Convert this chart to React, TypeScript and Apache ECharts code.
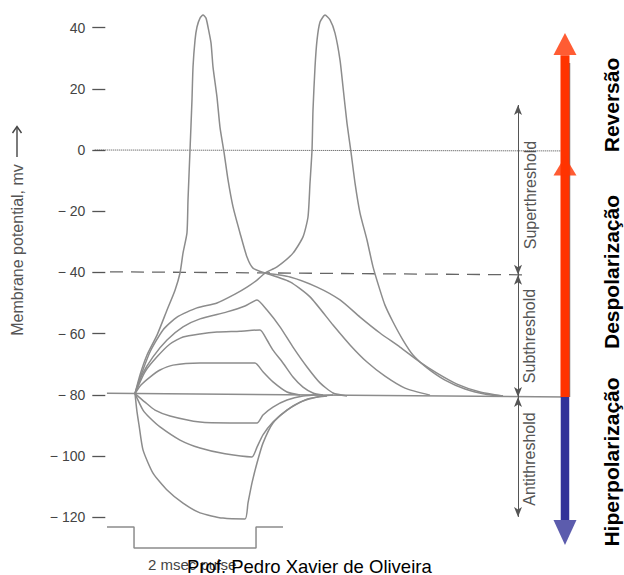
import React, { useEffect, useRef } from 'react';
import * as echarts from 'echarts';

// ---- data (time in ms, potential in mV) ----
const yTicks = [40, 20, 0, -20, -40, -60, -80, -100, -120];

const baseline = [[-0.46, -79.5], [7.08, -80.7]];
const thresholdLine = [[-0.41, -39.8], [6.43, -40.8]];
const zeroLine = [[-0.66, 0], [7.05, -0.3]];
const pulse = [[-0.459, -123.2], [-0.016, -123.2], [-0.016, -130.1], [1.984, -130.1], [1.984, -123.2], [2.426, -123.2]];

const ap1 = [[0, -79.6], [0.082, -73.5], [0.197, -67.0], [0.361, -60.5], [0.525, -52.3], [0.656, -45.8], [0.738, -40.2], [0.787, -33.7], [0.852, -27.1], [0.869, -16.3], [0.902, 0], [0.934, 16.3], [0.951, 27.1], [0.984, 35.9], [1.016, 40.2], [1.066, 43.1], [1.115, 44.1], [1.164, 43.1], [1.197, 40.2], [1.246, 35.0], [1.279, 27.1], [1.344, 17.3], [1.393, 7.5], [1.459, -0.7], [1.525, -9.8], [1.607, -18.6], [1.721, -27.1], [1.836, -35.0], [1.934, -38.6], [2.131, -40.2]];

const ap2 = [[0, -79.6], [0.082, -74.5], [0.246, -66.0], [0.459, -58.8], [0.689, -54.6], [1.016, -51.6], [1.344, -50.0], [1.639, -47.1], [1.836, -44.8], [2.0, -42.5], [2.131, -40.2], [2.328, -38.2], [2.59, -33.7], [2.754, -28.4], [2.836, -21.9], [2.869, -10.8], [2.902, 0], [2.918, 13.1], [2.951, 27.1], [2.984, 35.9], [3.033, 41.8], [3.115, 44.1], [3.197, 42.5], [3.279, 38.2], [3.361, 29.4], [3.41, 20.6], [3.475, 8.8], [3.541, -0.7], [3.607, -10.8], [3.689, -20.6], [3.803, -29.4], [3.902, -38.2], [4.016, -45.8], [4.098, -50.7], [4.23, -56.2], [4.393, -62.1], [4.557, -67.0], [4.787, -71.2], [5.082, -75.2], [5.41, -78.1], [5.77, -79.9], [6.033, -80.4]];

const junction1 = [[2.131, -40.2], [2.541, -43.1], [2.869, -48.0], [3.246, -57.2], [3.525, -63.7], [3.803, -69.3], [4.098, -73.9], [4.426, -77.8], [4.836, -80.1]];
const junction2 = [[2.131, -40.2], [2.541, -41.5], [2.984, -44.8], [3.361, -49.0], [3.689, -54.6], [4.016, -59.8], [4.344, -64.4], [4.672, -69.3], [4.951, -72.9], [5.279, -76.5], [5.656, -79.1], [6.033, -80.4]];

const sub49 = [[0, -79.6], [0.115, -73.5], [0.295, -67.6], [0.525, -62.1], [0.787, -57.8], [1.066, -55.2], [1.508, -52.9], [1.803, -51.0], [2.0, -49.0], [2.164, -52.3], [2.377, -57.8], [2.59, -64.4], [2.82, -70.9], [3.033, -76.1], [3.246, -79.4], [3.475, -80.4]];
const sub59 = [[0, -79.6], [0.164, -72.5], [0.361, -67.6], [0.574, -63.4], [0.787, -61.1], [1.066, -60.1], [1.344, -59.5], [1.721, -59.2], [2.049, -58.8], [2.164, -62.1], [2.262, -65.4], [2.426, -69.6], [2.59, -74.2], [2.754, -77.5], [2.918, -79.4], [3.082, -80.1]];
const sub70 = [[0, -79.6], [0.098, -76.8], [0.246, -74.2], [0.41, -71.9], [0.623, -70.3], [1.066, -69.6], [1.557, -69.6], [1.967, -69.6], [2.098, -72.5], [2.262, -75.8], [2.492, -79.1], [2.705, -80.1]];

const hyp90 = [[0, -79.6], [0.164, -82.4], [0.328, -85.0], [0.574, -86.9], [1.066, -88.9], [1.557, -89.2], [2.0, -89.2], [2.098, -86.6], [2.262, -84.0], [2.492, -81.7], [2.754, -80.4], [3.033, -80.0]];
const hyp100 = [[0, -79.6], [0.131, -85.0], [0.246, -87.6], [0.41, -90.5], [0.738, -94.8], [1.066, -97.4], [1.475, -99.3], [1.918, -100.3], [2.0, -97.1], [2.098, -93.1], [2.262, -88.9], [2.492, -85.0], [2.82, -81.4], [3.148, -80.4]];
const hyp120 = [[0, -79.6], [0.033, -85.6], [0.066, -89.9], [0.131, -98.0], [0.295, -105.6], [0.525, -111.1], [0.787, -115.4], [1.066, -118.6], [1.443, -120.3], [1.803, -120.6], [1.852, -115.4], [1.918, -108.8], [2.0, -102.3], [2.098, -95.8], [2.262, -89.2], [2.492, -85.0], [2.705, -82.4], [2.984, -80.7], [3.246, -80.1]];

const thresholdArrows = [
  [[6.279, 14.7], [6.279, -40.8]],
  [[6.279, -40.8], [6.279, -80.7]],
  [[6.279, -80.7], [6.279, -119.9]],
];

const redShaft = [[7.049, -80.7], [7.049, 31.0]];
const redHeads = [[7.049, 34.6], [7.049, -5.2]];
const blueShaft = [[7.049, -80.7], [7.049, -120.9]];
const blueHead = [[7.049, -125.0]];
const oldArrowLine = [[7.123, 28.4], [7.123, -80.7]];

const fmt = (v: number) => (v < 0 ? '\u2212 ' + Math.abs(v) : String(v));

const CURVE = '#8c8c8c';
const TXT = '#555';

function curve(data: number[][]) {
  return {
    type: 'line',
    data,
    showSymbol: false,
    smooth: 0.2,
    clip: false,
    lineStyle: { color: CURVE, width: 1.5 },
    silent: true,
    z: 3,
  };
}

function txt(text: string, x: number, y: number, font: string, fill: string, rotate = false, align = 'center') {
  return {
    type: 'text',
    x,
    y,
    rotation: rotate ? Math.PI / 2 : 0,
    silent: true,
    style: {
      text,
      font,
      fill,
      align,
      verticalAlign: 'middle',
      textAlign: align,
      textVerticalAlign: 'middle',
    },
  };
}

export default function App() {
  const ref = useRef<HTMLDivElement>(null);
  useEffect(() => {
    if (!ref.current) return;
    const chart = echarts.init(ref.current, null, { renderer: 'svg' });
    const option: any = {
      animation: false,
      backgroundColor: '#ffffff',
      grid: { left: 92.3, top: 12.3, width: 500.2, height: 541.62, containLabel: false },
      xAxis: { type: 'value', min: -0.7, max: 7.5, show: false },
      yAxis: {
        type: 'value',
        min: -132,
        max: 45,
        axisLine: { show: false, onZero: false },
        splitLine: { show: false },
        axisTick: { show: true, inside: true, length: 13, customValues: yTicks, lineStyle: { color: '#555', width: 1.3 } },
        axisLabel: {
          show: true,
          customValues: yTicks,
          formatter: (v: number) => fmt(v),
          margin: 7,
          color: '#444',
          fontSize: 14,
          fontFamily: 'Liberation Sans, Arial, sans-serif',
        },
      },
      series: [
        {
          type: 'line',
          data: zeroLine,
          showSymbol: false,
          lineStyle: { color: '#444', width: 1, type: [1, 1] },
          silent: true,
          z: 2,
        },
        {
          type: 'line',
          data: thresholdLine,
          showSymbol: false,
          lineStyle: { color: '#666', width: 1.3, type: [13, 8] },
          silent: true,
          z: 2,
        },
        {
          type: 'line',
          data: baseline,
          showSymbol: false,
          lineStyle: { color: CURVE, width: 1.5 },
          silent: true,
          z: 3,
          markLine: {
            silent: true,
            animation: false,
            symbol: ['arrow', 'arrow'],
            symbolSize: [6, 10],
            label: { show: false },
            lineStyle: { color: '#555', width: 1, type: 'solid' },
            data: thresholdArrows.map((s) => [{ coord: s[0] }, { coord: s[1] }]),
          },
        },
        {
          type: 'line',
          data: pulse,
          showSymbol: false,
          lineStyle: { color: CURVE, width: 1.5 },
          silent: true,
          z: 3,
        },
        curve(ap1),
        curve(ap2),
        curve(junction1),
        curve(junction2),
        curve(sub49),
        curve(sub59),
        curve(sub70),
        curve(hyp90),
        curve(hyp100),
        curve(hyp120),
        {
          type: 'line',
          data: oldArrowLine,
          showSymbol: false,
          lineStyle: { color: '#777', width: 1.5 },
          silent: true,
          z: 4,
        },
        {
          type: 'line',
          data: redShaft,
          showSymbol: false,
          lineStyle: { color: '#ff3300', width: 9, cap: 'butt' },
          silent: true,
          z: 5,
        },
        {
          type: 'line',
          data: blueShaft,
          showSymbol: false,
          lineStyle: { color: '#333399', width: 8.5, cap: 'butt' },
          silent: true,
          z: 5,
        },
        {
          type: 'scatter',
          data: redHeads.map((p, i) => ({ value: p, symbolSize: i === 0 ? [23, 22] : [23, 19] })),
          symbol: 'triangle',
          itemStyle: { color: '#ff3300' },
          silent: true,
          z: 6,
        },
        {
          type: 'scatter',
          data: blueHead,
          symbol: 'triangle',
          symbolSize: [23, 25],
          symbolRotate: 180,
          itemStyle: { color: '#333399' },
          silent: true,
          z: 6,
        },
      ],
      graphic: [
        txt('Membrane potential, mv', 17, 250, '16px "Liberation Sans", Arial, sans-serif', TXT, true),
        { type: 'line', silent: true, shape: { x1: 17, y1: 157, x2: 17, y2: 127 }, style: { stroke: '#444', lineWidth: 1.4 } },
        { type: 'polyline', silent: true, shape: { points: [[12.5, 133], [17, 126.5], [21.5, 133]] }, style: { stroke: '#444', lineWidth: 1.4, fill: null } },
        txt('Superthreshold', 530, 195, '16px "Liberation Sans", Arial, sans-serif', TXT, true),
        txt('Subthreshold', 529, 336, '16px "Liberation Sans", Arial, sans-serif', TXT, true),
        txt('Antithreshold', 529, 459, '16px "Liberation Sans", Arial, sans-serif', TXT, true),
        txt('Reversão', 611, 105, 'bold 21px "Liberation Sans", Arial, sans-serif', '#000', true),
        txt('Despolarização', 611.5, 272, 'bold 21px "Liberation Sans", Arial, sans-serif', '#000', true),
        txt('Hiperpolarização', 611, 462, 'bold 21px "Liberation Sans", Arial, sans-serif', '#000', true),
        txt('2 msec pulse', 148, 564, '15px "Liberation Sans", Arial, sans-serif', '#444', false, 'left'),
        txt('Prof. Pedro Xavier de Oliveira', 187, 566, '18.5px "Liberation Sans", Arial, sans-serif', '#000', false, 'left'),
      ],
    };
    chart.setOption(option);
    return () => chart.dispose();
  }, []);
  return <div ref={ref} style={{ position: 'absolute', left: 0, top: 0, width: 624, height: 575 }} />;
}
